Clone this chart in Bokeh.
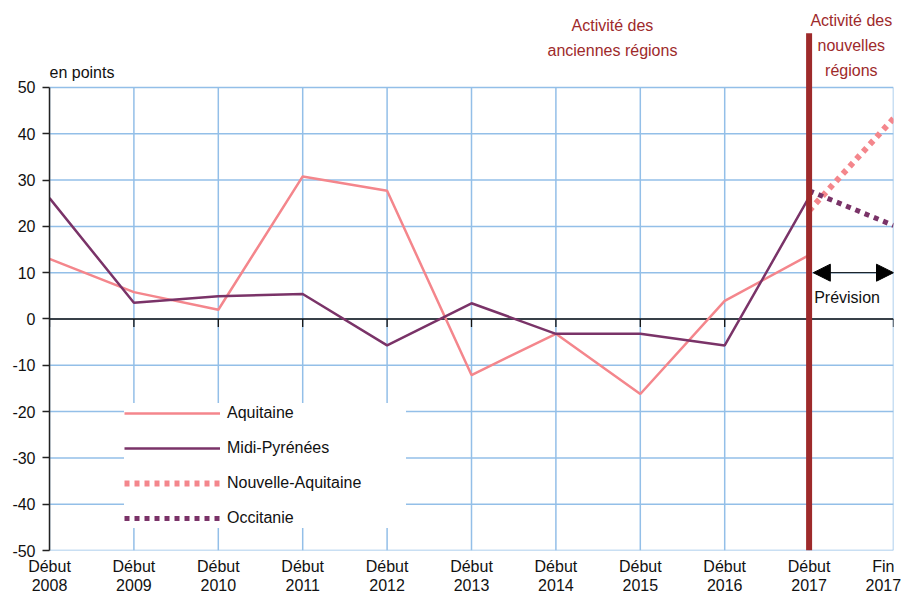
from bokeh.plotting import figure
from bokeh.models import (Range1d, LinearAxis, FixedTicker, Legend, LegendItem,
                          Arrow, NormalHead, ColumnDataSource)
from bokeh.core.properties import value
from bokeh.embed import file_html
from bokeh.resources import INLINE

# ---------------- data ----------------
x_idx = [0, 1, 2, 3, 4, 5, 6, 7, 8, 9, 10]
tick_top = ["Début"] * 10 + ["Fin"]
tick_year = ["2008", "2009", "2010", "2011", "2012", "2013", "2014", "2015", "2016", "2017", "2017"]
y_ticks = [-50, -40, -30, -20, -10, 0, 10, 20, 30, 40, 50]
y_tick_labels = ["-50", "-40", "-30", "-20", "-10", "0", "10", "20", "30", "40", "50"]

hist_x = [0, 1, 2, 3, 4, 5, 6, 7, 8, 9]
aquitaine = [13.0, 5.8, 2.0, 30.8, 27.7, -12.1, -3.2, -16.2, 3.9, 13.8]
midi_pyrenees = [26.1, 3.5, 4.9, 5.4, -5.7, 3.4, -3.2, -3.2, -5.7, 26.3]

prev_x = [9, 10]
nouvelle_aquitaine = [23.4, 43.3]
occitanie = [27.7, 20.2]

break_x = 9          # start of the new regions
forecast_y = 10      # level of the "Prévision" arrow

FONT = "Liberation Sans"
PINK = "#F4868C"
PURPLE = "#7A3368"
DARKRED = "#9E2A2B"
GRID = "#93BFE8"

p = figure(width=901, height=594,
           x_range=Range1d(0, 10), y_range=Range1d(-50, 68.79),
           x_axis_location=None, y_axis_location="left",
           min_border_left=49, min_border_right=8, min_border_top=0, min_border_bottom=44,
           outline_line_color=None, toolbar_location=None, output_backend="svg")
p.xgrid.visible = False
p.ygrid.visible = False

# y axis
yax = p.yaxis[0]
yax.ticker = FixedTicker(ticks=y_ticks)
yax.major_label_overrides = {v: t for v, t in zip(y_ticks, y_tick_labels)}
yax.bounds = (-50, 50)
yax.minor_tick_line_color = None
yax.major_tick_out = 7
yax.major_tick_in = 0
yax.axis_line_color = "#222222"
yax.axis_line_width = 1.5
yax.major_tick_line_color = "#222222"
yax.major_tick_line_width = 1.5
yax.major_label_standoff = 7
yax.major_label_text_font = FONT
yax.major_label_text_font_size = "16px"
yax.major_label_text_color = "#111111"

# x axes (two rows of labels); the last label is nudged left to stay on the page
label_pos = x_idx[:-1] + [x_idx[-1] - 0.12]
for labels, standoff in ((tick_top, 7), (tick_year, 1)):
    ax = LinearAxis(ticker=FixedTicker(ticks=label_pos),
                    major_label_overrides={i: t for i, t in zip(label_pos, labels)},
                    axis_line_color=None, major_tick_line_color=None,
                    minor_tick_line_color=None, major_tick_out=0, major_tick_in=0,
                    major_label_standoff=standoff,
                    major_label_text_font=FONT, major_label_text_font_size="16px",
                    major_label_text_color="#111111")
    p.add_layout(ax, "below")

# grid lines (limited to -50..50)
p.segment(x0=x_idx, x1=x_idx, y0=[-50] * len(x_idx), y1=[50] * len(x_idx),
          line_color=GRID, line_width=1.5)
p.segment(x0=[0] * len(y_ticks), x1=[10] * len(y_ticks), y0=y_ticks, y1=y_ticks,
          line_color=GRID, line_width=1.5)

# zero line with ticks
p.segment(x0=[0], x1=[10], y0=[0], y1=[0], line_color="#111111", line_width=1.3)
p.segment(x0=x_idx, x1=x_idx, y0=[0] * len(x_idx), y1=[-1.73] * len(x_idx),
          line_color="#111111", line_width=1.3)

# series
r_aq = p.line(hist_x, aquitaine, line_color=PINK, line_width=2.5)
r_mp = p.line(hist_x, midi_pyrenees, line_color=PURPLE, line_width=2.5)
r_na = p.line(prev_x, nouvelle_aquitaine, line_color=PINK, line_width=6,
              line_dash="5 5", line_cap="butt")
r_oc = p.line(prev_x, occitanie, line_color=PURPLE, line_width=5,
              line_dash="5 5", line_cap="butt")

# break line
p.segment(x0=[break_x], x1=[break_x], y0=[-50], y1=[61.7], line_color=DARKRED, line_width=6)

# forecast arrow
p.add_layout(Arrow(x_start=break_x + 0.05, y_start=forecast_y, x_end=10, y_end=forecast_y,
                   line_color="black", line_width=1,
                   start=NormalHead(size=17, fill_color="black", line_color="black"),
                   end=NormalHead(size=17, fill_color="black", line_color="black")))

# texts
txt = ColumnDataSource(dict(
    x=[6.67, 6.67, 9.5, 9.5, 9.5],
    y=[63.4, 58.0, 64.5, 59.1, 53.7],
    t=["Activité des", "anciennes régions", "Activité des", "nouvelles", "régions"],
))
p.text(x="x", y="y", text="t", source=txt, text_font=value(FONT), text_font_size="16px",
       text_color=DARKRED, text_align="center", text_baseline="middle")
p.text(x=[0], y=[53.2], text=["en points"], text_font=value(FONT), text_font_size="16px",
       text_color="#111111", text_align="left", text_baseline="middle")
p.text(x=[break_x + 0.06], y=[4.6], text=["Prévision"], text_font=value(FONT),
       text_font_size="16px", text_color="#111111", text_align="left", text_baseline="middle")

legend = Legend(items=[
    LegendItem(label="Aquitaine", renderers=[r_aq]),
    LegendItem(label="Midi-Pyrénées", renderers=[r_mp]),
    LegendItem(label="Nouvelle-Aquitaine", renderers=[r_na]),
    LegendItem(label="Occitanie", renderers=[r_oc]),
], location=(75, 22), padding=16, spacing=15, glyph_width=96, glyph_height=20,
    label_standoff=7, label_width=179, label_text_font=FONT, label_text_font_size="16px",
    label_text_color="#111111", background_fill_color="white", background_fill_alpha=1.0,
    border_line_color=None, margin=0)
p.add_layout(legend, "center")

open("out.html", "w").write(file_html(p, INLINE))
